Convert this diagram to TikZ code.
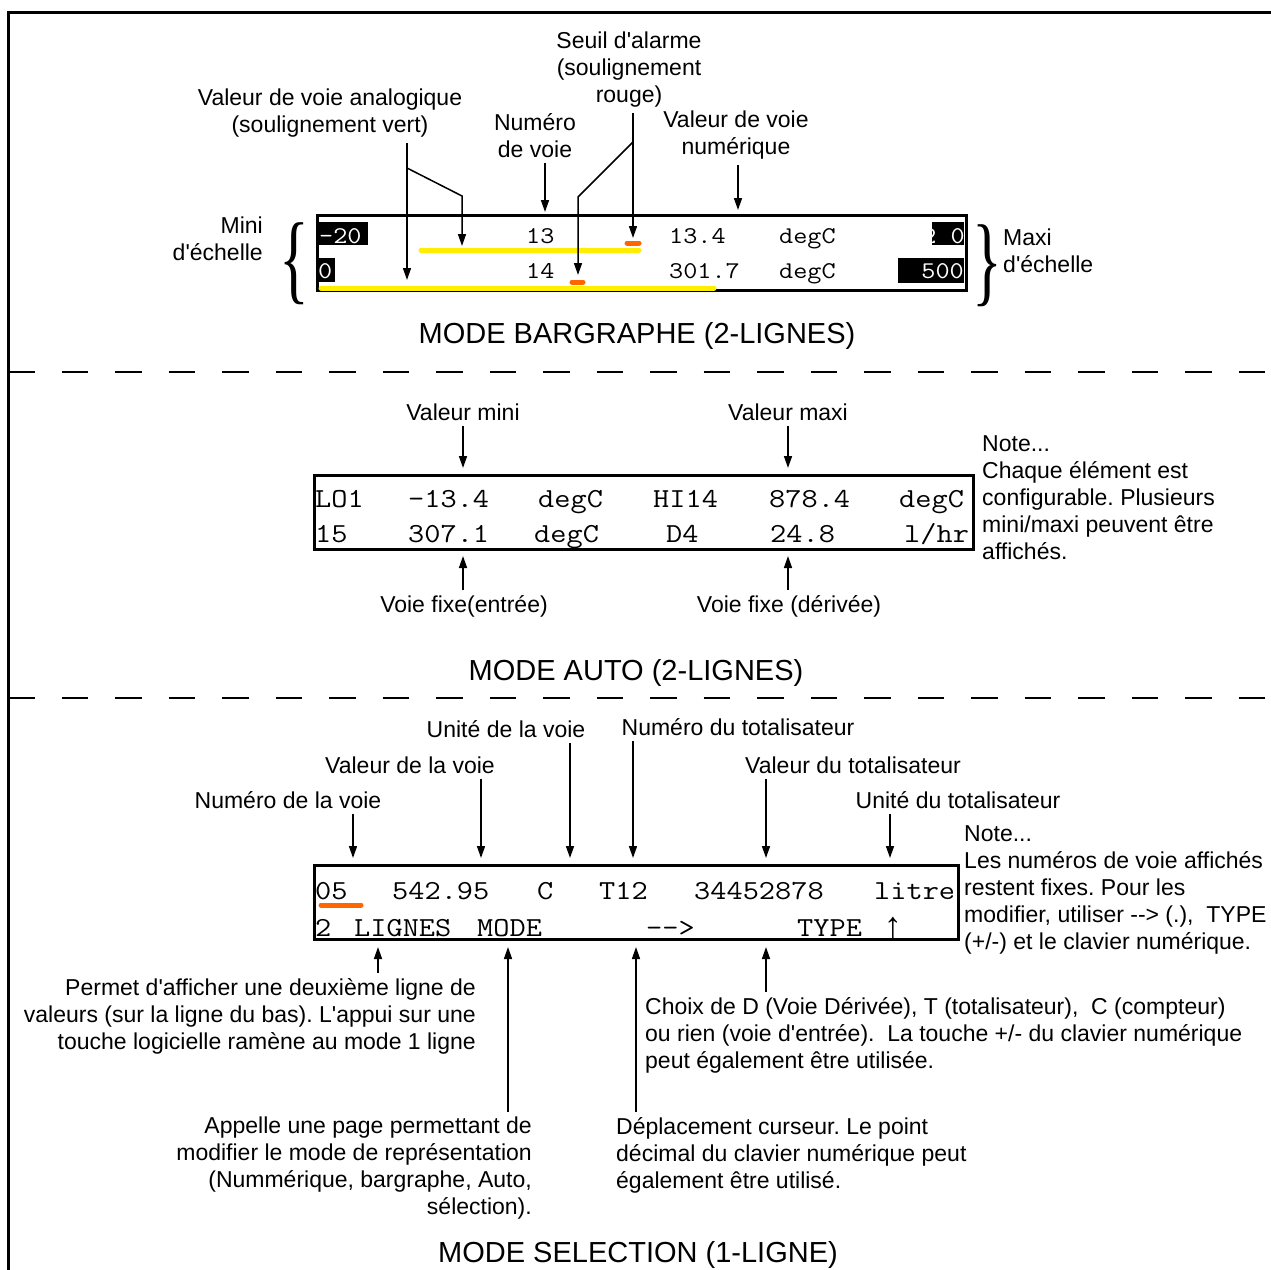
\documentclass[tikz,border=0pt]{standalone}
\usepackage{fontspec}
\usepackage{graphicx}
\setmainfont{Liberation Sans}[Ligatures=TeXOff]
\newfontfamily\affmono{Latin Modern Mono}[FakeStretch=1.143]
\newfontfamily\accfont{Liberation Serif}
\newfontfamily\flechefont{Liberation Mono}
\usepackage{tikz}
\usetikzlibrary{positioning, arrows.meta}
\definecolor{barjaune}{RGB}{255,238,0}
\definecolor{seuilrouge}{RGB}{255,102,0}
\newcommand{\fontlbl}{\fontsize{23}{27}\selectfont}
\newcommand{\fonttitre}{\fontsize{29}{34}\selectfont}
\newcommand{\affa}{\affmono\fontsize{24}{27}\selectfont}
\newcommand{\affb}{\affmono\fontsize{27.5}{32}\selectfont}
\frenchspacing

\begin{document}
\begin{tikzpicture}[x=1pt, y=-1pt, >={Triangle[length=12pt,width=8pt]},
    txt/.style={inner sep=0pt, align=center, font=\fontlbl},
    titre/.style={inner sep=0pt, font=\fonttitre},
    ecran/.style={draw, line width=3pt, inner sep=0pt},
    chA/.style={inner sep=0pt, anchor=base west, font=\affa},
    chB/.style={inner sep=0pt, anchor=base west, font=\affb},
    inv/.style={fill=black, inner sep=0pt, anchor=north west},
    accol/.style={inner sep=0pt, font=\accfont\fontsize{62}{62}\selectfont},
    fil/.style={line width=1.5pt},
    fl/.style={fil, ->, shorten <=5pt},
    jaune/.style={line width=5pt, line cap=round, draw=barjaune},
    alarme/.style={line width=5pt, line cap=round, draw=seuilrouge},
    coupe/.style={line width=1.5pt, dash pattern=on 26.5pt off 27pt}]
    \useasboundingbox (0,0) rectangle (1271,1269);
    % cadre et separations
    \draw[line width=3pt] (8,1272) |- (1274,12);
    \draw[coupe] (8,372) -- (1271,372);
    \draw[coupe] (8,698) -- (1271,698);

    % ---- mode bargraphe
    \node[ecran, minimum width=649pt, minimum height=75pt] (E1) at (642,253) {};
    \node[inv, minimum width=50pt, minimum height=23pt] (b1) at (318,222) {};
    \node[inv, minimum width=32pt, minimum height=23pt] (b2) at (932,222) {};
    \node[inv, minimum width=17pt, minimum height=24pt] (b3) at (318,258) {};
    \node[inv, minimum width=66pt, minimum height=25pt] (b4) at (898,258) {};
    \node[chA, text=white] (v1) at (319,243) {-20};
    \node[chA, text=white, anchor=base east] (v2) at (965,243) {2 0};
    \node[chA, text=white] (v3) at (318,278) {0};
    \node[chA, text=white, anchor=base east] (v4) at (964,278) {500};
    \node[chA] (n13) at (526,243) {13};
    \node[chA] (x13) at (669,243) {13.4};
    \node[chA] (u13) at (779,243) {degC};
    \node[chA] (n14) at (526,278) {14};
    \node[chA] (x14) at (669,278) {301.7};
    \node[chA] (u14) at (779,278) {degC};
    \draw[jaune] (421,250) -- (639,250);
    \draw[jaune] (321,288) -- (714,288);
    \draw[alarme] (627,243) -- (639,243);
    \draw[alarme] (572,282) -- (583,282);

    \node[txt] (ana) at (330,113.5) {Valeur de voie analogique\\(soulignement vert)};
    \node[txt] (num) at (535,135.5) {Numéro\\de voie};
    \node[txt] (seuil) at (629,70) {Seuil d'alarme\\(soulignement\\rouge)};
    \node[txt] (vnum) at (736,135.5) {Valeur de voie\\numérique};
    \node[txt, align=right, anchor=east] (mini) at (263,238.5) {Mini\\d'échelle};
    \node[txt, align=left, anchor=west] (maxi) at (1003,250.5) {Maxi\\d'échelle};
    \node[accol] (accG) at (294,264) {\scalebox{1}[1.6]{\{}};
    \node[accol] (accD) at (987,266) {\scalebox{1}[1.6]{\}}};

    \coordinate (ana1) at (462,246);
    \coordinate (ana2) at (407,280);
    \coordinate (anaK) at (407,168);
    \coordinate (anaC) at (462,196);
    \draw[fl] (ana.south -| ana2) -- (ana2);
    \draw[fil, ->] (anaK) -- (anaC) -- (ana1);
    \coordinate (pnum) at (545,212);
    \draw[fl] (num.south -| pnum) -- (pnum);
    \coordinate (s1) at (633,238);
    \coordinate (s2) at (578,275);
    \coordinate (sK) at (633,142);
    \coordinate (sC) at (578,197);
    \draw[fl] (seuil.south -| s1) -- (s1);
    \draw[fil, ->] (sK) -- (sC) -- (s2);
    \coordinate (pvn) at (738,210);
    \draw[fl] (vnum.south -| pvn) -- (pvn);

    \node[titre] (t1) at (637,336) {MODE BARGRAPHE (2-LIGNES)};

    % ---- mode auto
    \node[ecran, minimum width=659pt, minimum height=74pt] (E2) at (644,512.5) {};
    \node[chB] (a1) at (315,507) {LO1};
    \node[chB] (a2) at (408,507) {-13.4};
    \node[chB] (a3) at (538,507) {degC};
    \node[chB] (a4) at (653,507) {HI14};
    \node[chB] (a5) at (769,507) {878.4};
    \node[chB] (a6) at (899,507) {degC};
    \node[chB] (c1) at (315,542) {15};
    \node[chB] (c2) at (408,542) {307.1};
    \node[chB] (c3) at (534,542) {degC};
    \node[chB] (c4) at (666,542) {D4};
    \node[chB] (c5) at (770,542) {24.8};
    \node[chB] (c6) at (904,542) {l/hr};

    \node[txt] (vmin) at (463,412) {Valeur mini};
    \node[txt] (vmax) at (788,412) {Valeur maxi};
    \node[txt] (fixe) at (464,606) {Voie fixe(entrée)};
    \node[txt] (fixd) at (789,606) {Voie fixe (dérivée)};
    \coordinate (pmin) at (463,468);
    \coordinate (pmax) at (788,468);
    \coordinate (pfe) at (463,556);
    \coordinate (pfd) at (788,556);
    \draw[fl] (vmin.south -| pmin) -- (pmin);
    \draw[fl] (vmax.south -| pmax) -- (pmax);
    \draw[fl] (fixe.north -| pfe) -- (pfe);
    \draw[fl] (fixd.north -| pfd) -- (pfd);
    \node[txt, align=left, anchor=west] (note2) at (982,497.5) {Note...\\Chaque élément est\\configurable. Plusieurs\\mini/maxi peuvent être\\affichés.};

    \node[titre] (t2) at (636,673) {MODE AUTO (2-LIGNES)};

    % ---- mode selection
    \node[ecran, minimum width=644pt, minimum height=74pt] (E3) at (636.5,902.5) {};
    \node[chB] (r1) at (315,899) {05};
    \node[chB] (r2) at (392,899) {542.95};
    \node[chB] (r3) at (537,899) {C};
    \node[chB] (r4) at (599,899) {T12};
    \node[chB] (r5) at (694,899) {34452878};
    \node[chB] (r6) at (874,899) {litre};
    \node[chB] (k1) at (315,936) {2};
    \node[chB] (k2) at (354,936) {LIGNES};
    \node[chB] (k3) at (477,936) {MODE};
    \node[chB] (k4) at (646,936) {-{}-{}>};
    \node[chB] (k5) at (797,936) {TYPE};
    \node[inner sep=0pt, anchor=base west, font=\flechefont\fontsize{36}{36}\selectfont] (k6) at (882,937) {↑};
    \draw[alarme] (321,905) -- (361,905);

    \node[txt] (nv) at (288,800) {Numéro de la voie};
    \node[txt] (vv) at (410,765) {Valeur de la voie};
    \node[txt] (uv) at (506,729) {Unité de la voie};
    \node[txt] (nt) at (738,727) {Numéro du totalisateur};
    \node[txt] (vt) at (853,765) {Valeur du totalisateur};
    \node[txt] (ut) at (958,800) {Unité du totalisateur};
    \coordinate (pnv) at (353,858);
    \coordinate (pvv) at (481,858);
    \coordinate (puv) at (570,858);
    \coordinate (pnt) at (633,858);
    \coordinate (pvt) at (766,858);
    \coordinate (put) at (890,858);
    \draw[fl] (nv.south -| pnv) -- (pnv);
    \draw[fl] (vv.south -| pvv) -- (pvv);
    \draw[fl] (uv.south -| puv) -- (puv);
    \draw[fl] (nt.south -| pnt) -- (pnt);
    \draw[fl] (vt.south -| pvt) -- (pvt);
    \draw[fl] (ut.south -| put) -- (put);
    \node[txt, align=left, anchor=west] (note3) at (964,890) {Note...\\Les numéros de voie affichés\\restent fixes. Pour les\\modifier, utiliser --> (.),\ \ TYPE\\(+/-) et le clavier numérique.};

    \node[txt, align=right, anchor=east] (deux) at (476,1016) {Permet d'afficher une deuxième ligne de\\valeurs (sur la ligne du bas). L'appui sur une\\touche logicielle ramène au mode 1 ligne};
    \node[txt, align=right, anchor=east] (mode) at (532,1168.5) {Appelle une page permettant de\\modifier le mode de représentation\\(Nummérique, bargraphe, Auto,\\sélection).};
    \node[txt, align=left, anchor=west] (curs) at (616,1155) {Déplacement curseur. Le point\\décimal du clavier numérique peut\\également être utilisé.};
    \node[txt, align=left, anchor=west] (choix) at (645,1035) {Choix de D (Voie Dérivée), T (totalisateur),\ \ C (compteur)\\ou rien (voie d'entrée).\ \ La touche +/- du clavier numérique\\peut également être utilisée.};
    \coordinate (pdeux) at (378,947);
    \coordinate (pmode) at (508,947);
    \coordinate (pcurs) at (636,947);
    \coordinate (pchoix) at (766,947);
    \draw[fl] (deux.north -| pdeux) -- (pdeux);
    \draw[fl] (mode.north -| pmode) -- (pmode);
    \draw[fl] (curs.north -| pcurs) -- (pcurs);
    \draw[fl] (choix.north -| pchoix) -- (pchoix);

    \node[titre] (t3) at (638,1255) {MODE SELECTION (1-LIGNE)};
\end{tikzpicture}
\end{document}
